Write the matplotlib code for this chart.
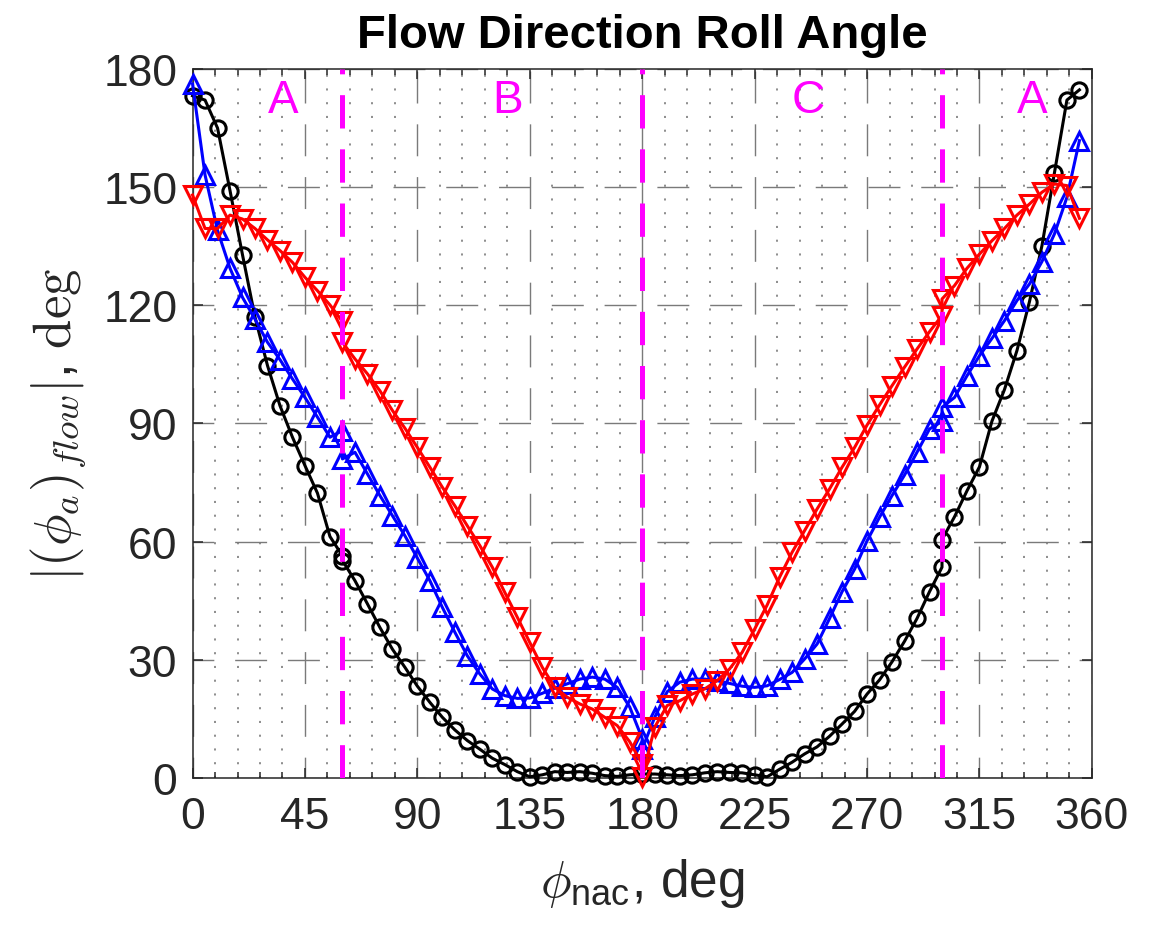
import matplotlib
matplotlib.use("Agg")
import matplotlib.pyplot as plt
from matplotlib.ticker import MultipleLocator

plt.rcParams['font.family'] = ['Liberation Sans', 'DejaVu Sans']
plt.rcParams['mathtext.fontset'] = 'cm'
plt.rcParams['lines.scale_dashes'] = False

# nacelle roll angle, with the region boundaries (60, 180, 300) repeated
phi_nac = (list(range(0, 61, 5)) + list(range(60, 181, 5))
           + list(range(180, 301, 5)) + list(range(300, 356, 5)))

roll_black = [173.2, 172.1, 165.0, 149.1, 132.8, 117.0, 104.7, 94.5, 86.5, 79.3, 72.3, 61.3, 56.4,
              55.2, 50.1, 44.2, 38.2, 32.7, 28.1, 23.3, 19.2, 15.4, 12.2, 9.5, 7.3, 5.0, 3.4, 1.6,
              0.3, 0.8, 1.6, 1.4, 1.6, 1.2, 0.6, 0.4, 0.8, 1.0,
              1.0, 1.0, 0.8, 0.6, 0.8, 1.3, 1.6, 1.4, 1.3, 0.8, 0.3, 2.2, 4.0, 6.1, 7.9, 10.6,
              13.7, 16.9, 21.3, 24.9, 29.5, 34.7, 40.5, 47.3, 53.5,
              60.5, 66.3, 72.9, 79.0, 90.6, 98.6, 108.5, 120.9, 135.1, 153.6, 172.1, 174.7]

roll_blue = [176.2, 153.1, 139.0, 129.4, 122.0, 116.5, 110.6, 106.2, 101.3, 96.6, 91.6, 86.5, 88.2,
             81.0, 82.7, 77.2, 71.7, 66.6, 61.5, 55.8, 50.1, 43.3, 37.0, 31.0, 26.4, 22.6, 20.9,
             20.2, 20.3, 21.5, 22.8, 23.9, 25.1, 25.6, 25.1, 23.0, 18.0, 10.0,
             7.4, 15.4, 21.9, 24.3, 25.1, 25.1, 24.7, 24.0, 23.3, 23.0, 23.4, 25.0, 26.8, 30.2,
             34.0, 40.5, 47.3, 53.0, 60.2, 66.2, 71.7, 76.9, 82.7, 88.6, 90.5,
             94.1, 96.6, 102.1, 107.2, 111.6, 116.1, 121.2, 125.4, 131.1, 138.1, 147.4, 161.8]

roll_red = [148.0, 139.5, 139.5, 142.9, 141.9, 139.5, 136.6, 133.9, 130.9, 127.1, 123.7, 120.1, 115.9,
            110.6, 106.4, 102.6, 98.3, 93.3, 88.8, 83.9, 78.9, 73.8, 69.1, 64.0, 59.0, 53.5, 47.1,
            40.8, 34.4, 28.1, 23.0, 20.5, 18.8, 17.5, 15.4, 13.3, 9.2, 3.5,
            0.2, 12.9, 18.4, 19.6, 21.3, 22.6, 24.7, 27.7, 31.9, 37.8, 43.9, 51.0, 57.3, 62.8,
            68.3, 73.4, 78.9, 83.9, 89.6, 94.7, 99.6, 104.3, 108.9, 113.3, 117.4,
            121.6, 125.0, 129.4, 133.0, 136.4, 139.5, 142.9, 145.7, 148.7, 150.8, 150.4, 142.1]

region_bounds = [60, 180, 300]
region_names = ['A', 'B', 'C', 'A']
region_label_x = [30, 120, 240, 330]

fig = plt.figure(figsize=(11.53, 9.28), dpi=100)
ax = fig.add_axes([0.167, 0.1606, 0.780, 0.764])

ax.plot(phi_nac, roll_black, '-o', color='black', lw=2.2, ms=11, mew=2.2, mfc='none',
        zorder=3, clip_on=False)
ax.plot(phi_nac, roll_blue, '-^', color='blue', lw=2.2, ms=13, mew=2.2, mfc='none',
        zorder=4, clip_on=False)
ax.plot(phi_nac, roll_red, '-v', color='red', lw=2.2, ms=13, mew=2.2, mfc='none',
        zorder=5, clip_on=False)

for xb in region_bounds:
    ax.axvline(xb, color='#ff00ff', lw=3.6, linestyle=(0, (24, 15)), zorder=6)
for xl, name in zip(region_label_x, region_names):
    ax.text(xl, 172, name, color='#ff00ff', fontsize=33, ha='left', va='center')

ax.set_xlim(0, 360)
ax.set_ylim(0, 180)
ax.xaxis.set_major_locator(MultipleLocator(45))
ax.xaxis.set_minor_locator(MultipleLocator(9))
ax.yaxis.set_major_locator(MultipleLocator(30))

ax.set_axisbelow(True)
ax.grid(which='major', color='#7a7a7a', lw=1.0, linestyle=(8, (23, 15)))
ax.xaxis.grid(True, which='minor', color='#7a7a7a', lw=1.2, linestyle=(0, (1.5, 8.4)))

ax.tick_params(which='both', direction='in', top=True, right=True, colors='#262626',
               labelsize=32, width=1.1)
ax.tick_params(which='major', length=7)
ax.tick_params(axis='x', which='major', pad=13)
ax.tick_params(axis='y', which='major', pad=11)
ax.tick_params(which='minor', length=4)
for sp in ax.spines.values():
    sp.set_color('#262626')
    sp.set_linewidth(1.1)

ax.set_title('Flow Direction Roll Angle', fontsize=34, fontweight='bold', pad=16)
ax.set_xlabel(r'$\phi_{\mathregular{nac}}$, deg', fontsize=37, color='#262626', labelpad=14)
ax.set_ylabel(r'$|(\phi_a)_{flow}|$, $\mathrm{deg}$', fontsize=38, color='#262626', labelpad=10)

fig.savefig('out.png', dpi=100)
